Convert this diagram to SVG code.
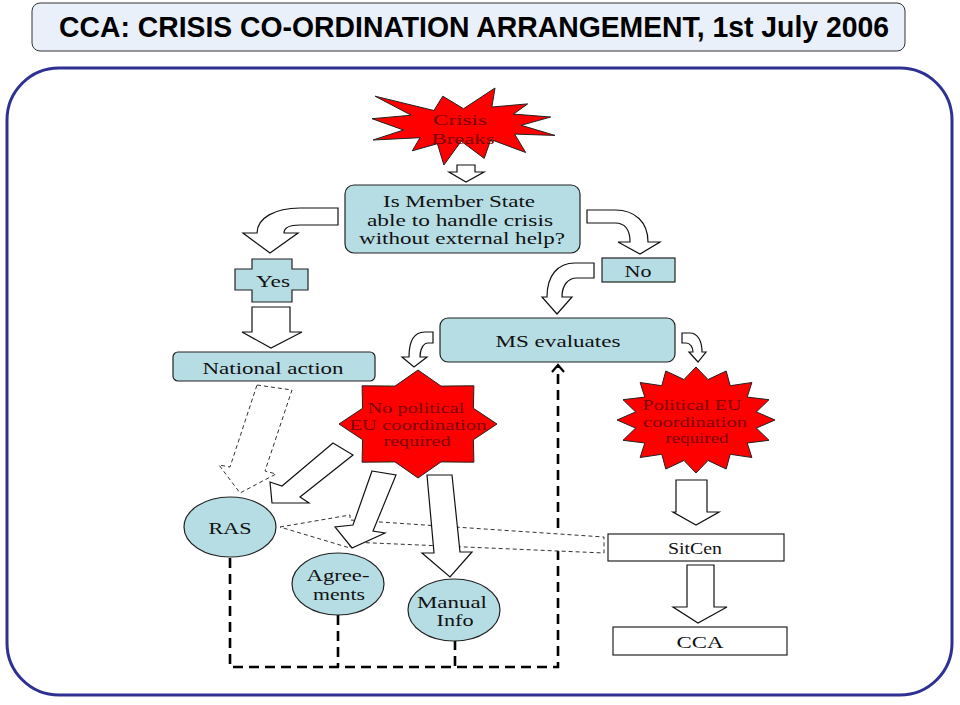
<svg xmlns="http://www.w3.org/2000/svg" width="960" height="705" viewBox="0 0 960 705">
<style>
  .box{fill:#b7dde4;stroke:#222;stroke-width:1.2}
  .arr{fill:#fff;stroke:#111;stroke-width:1.2;stroke-linejoin:miter}
  .darr{fill:#fff;stroke:#333;stroke-width:1;stroke-dasharray:4 3}
  .thick{fill:none;stroke:#000;stroke-width:2.6;stroke-dasharray:10 6}
  .star{fill:#ff0000;stroke:#222;stroke-width:1}
  .t{font-family:"Liberation Serif","Times New Roman",serif;font-size:17px;fill:#111;text-anchor:middle}
  .t2{font-family:"Liberation Serif","Times New Roman",serif;font-size:16px;fill:#111;text-anchor:middle}
  .st{font-family:"Liberation Serif","Times New Roman",serif;font-size:14.5px;fill:#7a0000;text-anchor:middle}
</style>
<rect width="960" height="705" fill="#fff"/>
<g id="title">
  <rect x="32" y="3" width="873" height="48" rx="8" fill="#e9f0fa" stroke="#333" stroke-width="1"/>
  <text x="474" y="37" font-family="'Liberation Sans Narrow','Liberation Sans',Arial,sans-serif" font-weight="bold" font-size="29" fill="#000" text-anchor="middle" textLength="830" lengthAdjust="spacingAndGlyphs">CCA: CRISIS CO-ORDINATION ARRANGEMENT, 1st July 2006</text>
</g>
<g id="frame">
  <rect x="7" y="68" width="945" height="627" rx="52" fill="none" stroke="#2e3192" stroke-width="3"/>
</g>
<g id="connectors">
  <polyline class="thick" points="230,558 230,667 558,667 558,366"/>
  <line class="thick" x1="338" y1="615" x2="338" y2="667"/>
  <line class="thick" x1="455" y1="640" x2="455" y2="667"/>
  <polyline points="552,372 558,365 564,372" fill="none" stroke="#000" stroke-width="2.2"/>
  <polygon class="darr" points="257,385 292,390 265,471 276,474 240,493 219,465 230,467"/>
  <polygon class="darr" points="280,527 350,515 350,520 604,537 604,553 350,542 350,548"/>
  <path class="arr" d="M457,165 L475,165 L475,172 L484,172 L466,182 L449,172 L457,172 Z"/>
  <path class="arr" d="M252,307 L290,307 L290,332 L302,332 L271,348 L242,332 L252,332 Z"/>
  <path class="arr" d="M676,480 L707,480 L707,512 L719,512 L696,525 L673,512 L676,512 Z"/>
  <path class="arr" d="M687,565 L714,565 L714,607 L727,607 L698,623 L673,607 L687,607 Z"/>
  <path class="arr" d="M338,208 L300,208 C275,208 257,218 257,233 L243,233 L270,253 L298,233 L284,233 C284,228 290,225 300,225 L338,225 Z"/>
  <path class="arr" d="M587,210 L615,210 C635,210 648,222 648,242 L660,242 L640,254 L618,242 L630,242 C630,230 625,223 615,223 L587,223 Z"/>
  <path class="arr" d="M594,263 L575,263 C558,263 547,275 547,297 L542,297 L557,314 L572,297 L562,297 C562,285 568,278 577,278 L594,278 Z"/>
  <path class="arr" d="M433,332 L425,332 C415,332 409,340 409,357 L402,357 L414,367 L427,357 L420,357 C420,348 424,343 428,343 L433,343 Z"/>
  <path class="arr" d="M682,333 L690,333 C697,333 702,340 702,352 L706,352 L698,362 L689,352 L693,352 C693,347 690,343 686,343 L682,343 Z"/>
  <polygon class="arr" points="333,443 353,455 300,497 309,503 272,503 270,482 282,486"/>
  <polygon class="arr" points="372,471 396,475 373,531 385,533 352,548 335,527 353,525"/>
  <polygon class="arr" points="427,475 452,475 460,552 472,552 450,577 422,553 434,553"/>
</g>
<g id="crisis">
  <polygon class="star" points="463.5,108.7 495,88 491.9,107 527.7,103.9 513.5,114.1 550.7,117 521.2,125.3 555,135.4 514.6,134.1 525.7,152.5 490.8,139.5 484.2,158.4 461.2,141.2 443.9,165 437.4,143.7 412.3,150.8 420,137.7 373.1,140 403.5,130 372,118.7 411.2,115.2 375.1,96.2 433.9,110.5 442.8,96.2"/>
  <text class="st" x="460" y="125" font-size="16" textLength="54" lengthAdjust="spacingAndGlyphs">Crisis</text>
  <text class="st" x="463" y="144" font-size="16" textLength="63" lengthAdjust="spacingAndGlyphs">Breaks</text>
</g>
<g id="question">
  <rect class="box" x="345" y="185" width="235" height="68" rx="9"/>
  <text class="t2" x="459" y="207" textLength="152" lengthAdjust="spacingAndGlyphs">Is Member State</text>
  <text class="t2" x="460" y="226" textLength="186" lengthAdjust="spacingAndGlyphs">able to handle crisis</text>
  <text class="t2" x="462" y="244" textLength="206" lengthAdjust="spacingAndGlyphs">without external help?</text>
</g>
<g id="yes">
  <polygon class="box" points="252,259 292,259 292,269 308,269 308,290 292,290 292,302 252,302 252,290 235,290 235,269 252,269"/>
  <text class="t" x="273" y="287" textLength="34" lengthAdjust="spacingAndGlyphs">Yes</text>
</g>
<g id="no">
  <rect class="box" x="602" y="258" width="73" height="24"/>
  <text class="t" x="638" y="277" textLength="27" lengthAdjust="spacingAndGlyphs">No</text>
</g>
<g id="national">
  <rect class="box" x="173" y="352" width="202" height="29" rx="5"/>
  <text class="t" x="273" y="374" textLength="141" lengthAdjust="spacingAndGlyphs">National action</text>
</g>
<g id="ms">
  <rect class="box" x="440" y="318" width="235" height="44" rx="8"/>
  <text class="t" x="558" y="347" textLength="125" lengthAdjust="spacingAndGlyphs">MS evaluates</text>
</g>
<g id="nopolitical">
  <polygon class="star" points="418,370 441,386.1 473.9,385.8 473.4,408.3 497,424 473.4,439.7 473.9,462.2 441,461.9 418,478 395,461.9 362.1,462.2 362.6,439.7 339,424 362.6,408.3 362.1,385.8 395,386.1"/>
  <text class="st" x="416" y="413" textLength="97" lengthAdjust="spacingAndGlyphs">No political</text>
  <text class="st" x="418" y="430" textLength="137" lengthAdjust="spacingAndGlyphs">EU coordination</text>
  <text class="st" x="417" y="446" textLength="67" lengthAdjust="spacingAndGlyphs">required</text>
</g>
<g id="political">
  <polygon class="star" points="696,367 708,379.5 726.2,371 730.2,385.7 751.9,382.5 747.2,397.1 769,399.7 756.4,411.9 775,420 756.4,428.1 769,440.3 747.2,443 751.9,457.5 730.2,454.3 726.2,469 708,460.5 696,473 684,460.5 665.8,469 661.8,454.3 640.1,457.5 644.8,443 623,440.3 635.6,428.1 617,420 635.6,411.9 623,399.7 644.8,397.1 640.1,382.5 661.8,385.7 665.8,371 684,379.5"/>
  <text class="st" x="692" y="410" textLength="99" lengthAdjust="spacingAndGlyphs">Political EU</text>
  <text class="st" x="695" y="427" textLength="104" lengthAdjust="spacingAndGlyphs">coordination</text>
  <text class="st" x="697" y="443" textLength="63" lengthAdjust="spacingAndGlyphs">required</text>
</g>
<g id="ras">
  <ellipse class="box" cx="230" cy="527" rx="46" ry="30"/>
  <text class="t" x="230" y="534" textLength="43" lengthAdjust="spacingAndGlyphs">RAS</text>
</g>
<g id="agreements">
  <ellipse class="box" cx="338" cy="584" rx="46" ry="31"/>
  <text class="t" x="338" y="581" textLength="63" lengthAdjust="spacingAndGlyphs">Agree-</text>
  <text class="t" x="339" y="600" textLength="52" lengthAdjust="spacingAndGlyphs">ments</text>
</g>
<g id="manual">
  <ellipse class="box" cx="454" cy="610" rx="46" ry="31"/>
  <text class="t" x="452" y="608" textLength="70" lengthAdjust="spacingAndGlyphs">Manual</text>
  <text class="t" x="455" y="626" textLength="37" lengthAdjust="spacingAndGlyphs">Info</text>
</g>
<g id="sitcen">
  <rect x="608" y="534" width="176" height="27" fill="#fff" stroke="#222" stroke-width="1.2"/>
  <text class="t" x="695" y="554" textLength="54" lengthAdjust="spacingAndGlyphs">SitCen</text>
</g>
<g id="cca">
  <rect x="613" y="627" width="174" height="28" fill="#fff" stroke="#222" stroke-width="1.2"/>
  <text class="t" x="700" y="648" textLength="47" lengthAdjust="spacingAndGlyphs">CCA</text>
</g>
</svg>
